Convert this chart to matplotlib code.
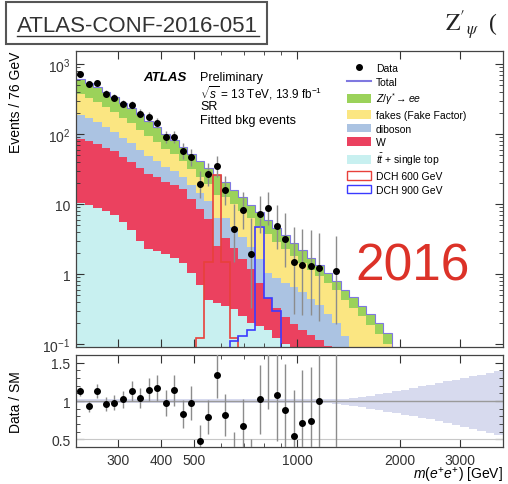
import numpy as np
import matplotlib
matplotlib.use("Agg")
import matplotlib.pyplot as plt
from matplotlib.patches import Patch, Rectangle
from matplotlib.lines import Line2D
from matplotlib.ticker import FixedLocator, NullFormatter

plt.rcParams['font.family'] = ['Liberation Sans', 'DejaVu Sans']
plt.rcParams['mathtext.fontset'] = 'custom'
plt.rcParams['mathtext.rm'] = 'Liberation Sans'
plt.rcParams['mathtext.it'] = 'Liberation Sans:italic'
plt.rcParams['mathtext.bf'] = 'Liberation Sans:bold'

# bin edges [GeV], log spaced
edges = [226.0, 239.4, 253.6, 268.5, 284.4, 301.2, 319.1, 337.9, 357.9, 379.1,
         401.5, 425.3, 450.5, 477.1, 505.4, 535.3, 566.9, 600.5, 636.0, 673.6,
         713.5, 755.7, 800.4, 847.7, 897.9, 951.0, 1007.1, 1066.7, 1129.8, 1196.7,
         1267.5, 1342.5, 1421.9, 1506.0, 1595.1, 1689.5, 1789.4, 1895.3, 2007.4, 2126.2,
         2251.9, 2385.2, 2526.3, 2675.7, 2834.0, 3001.7, 3179.2, 3367.3, 3566.5, 3777.5,
         4000.9]

# backgrounds, events / 76 GeV (first 41 bins, rest empty)
zee = [250, 215, 186, 154, 129, 105, 90, 75, 61, 49, 38.6, 30.8, 24.5, 20, 16.4,
       13.8, 12.4, 7.9, 6.0, 4.5, 3.45, 2.78, 2.2, 1.72, 1.35, 1.0, 0.76, 0.55, 0.41,
       0.29, 0.21, 0.165, 0.13, 0.10, 0.08, 0.06, 0.042, 0.03, 0.02, 0.015, 0.011]
fakes = [180, 157, 137, 116, 99, 81, 68, 55, 45, 35, 27.5, 22, 17.2, 13.4, 10.4,
         8.2, 7.2, 6.2, 5.3, 4.6, 3.9, 3.2, 2.65, 2.0, 1.51, 1.15, 0.88, 0.7, 0.565,
         0.48, 0.39, 0.3, 0.25, 0.2, 0.155, 0.115, 0.085, 0.045, 0.035, 0.026, 0.02]
diboson = [105, 89, 75, 61, 50, 41, 34, 27, 21.7, 17, 13, 10.3, 7.9, 6.8, 5.7,
           5.0, 3.9, 3.1, 2.4, 1.75, 1.27, 0.87, 0.59, 0.55, 0.5, 0.45, 0.4, 0.31, 0.246,
           0.17, 0.12, 0.08, 0.05, 0.03, 0.02, 0.012, 0.008, 0.006, 0.004, 0.003, 0.002]
wjets = [74, 69, 63, 56, 50, 42, 36, 30, 24.5, 22, 19, 17.2, 14.9, 10.8, 7.8,
         5.6, 2.1, 2.9, 2.0, 1.4, 0.98, 0.57, 0.3, 0.21, 0.14, 0.12, 0.1, 0.085, 0.07,
         0.059, 0.048, 0.033, 0.023, 0.016, 0.011, 0.008, 0.006, 0.003, 0.002, 0.002, 0.0015]
ttbar = [10.5, 9.7, 8.9, 7.9, 7.0, 5.5, 4.2, 3.0, 2.3, 2.1, 1.9, 1.7, 1.45, 1.04, 0.7,
         0.43, 0.39, 0.35, 0.32, 0.25, 0.2, 0.18, 0.16, 0.12, 0.1, 0.076, 0.06, 0.051, 0.043,
         0.036, 0.03, 0.018, 0.009, 0.005, 0.003, 0.002, 0.0015, 0.001, 0.001, 0.0005, 0.0]

# signals (first bin index, values)
dch600_start = 14
dch600 = [0.12, 1.5, 26, 1.5, 0.12]
dch900_start = 18
dch900 = [0.11, 0.13, 0.16, 4.7, 0.45, 0.3]

# data (first 31 bins)
data = [713, 513, 541, 377, 330, 271, 260, 195, 175, 145, 90.6, 90.6, 57.2, 46.4, 19.3,
        26.8, 34.6, 16.0, 4.4, 8.3, 1.93, 7.2, 8.7, 4.8, 3.16, 1.47, 1.36, 1.31, 1.21,
        np.nan, 1.09]
data_lo = [60, 50, 52, 42, 38, 33, 33, 27, 25, 22, 17, 17, 13, 11.5, 7,
           8.5, 10, 6.3, 2.9, 3.9, 1.6, 3.3, 3.7, 2.5, 1.9, 1.2, 1.1, 1.05, 1.0, np.nan, 0.9]
data_hi = [65, 55, 57, 46, 42, 37, 37, 31, 29, 26, 21, 21, 16.5, 15, 10,
           11.5, 13.5, 9, 5.5, 6.4, 4.4, 5.8, 6.3, 4.8, 4.2, 3.3, 3.1, 2.9, 2.7, np.nan, 2.4]

# data / SM
ratio = [1.128, 0.933, 1.128, 0.964, 0.977, 1.02, 1.128, 1.04, 1.15, 1.17, 0.973, 1.14,
         0.83, 0.973, 0.484, 0.787, 1.34, 0.817, 0.3, 0.675, 0.2, 1.02, 1.7, 1.084, 0.888,
         0.55, 0.71, 0.741, 1.0, np.nan, 1.7]
ratio_err = [0.06, 0.07, 0.09, 0.09, 0.1, 0.11, 0.13, 0.13, 0.15, 0.17, 0.17, 0.2,
             0.18, 0.22, 0.2, 0.22, 0.3, 0.28, 0.3, 0.35, 0.3, 0.45, 0.8, 0.6, 0.6,
             0.6, 0.7, 0.7, 1.0, np.nan, 1.5]
band_up = [0.02, 0.02, 0.02, 0.02, 0.02, 0.02, 0.02, 0.02, 0.02, 0.02, 0.02, 0.02, 0.02,
           0.02, 0.02, 0.02, 0.02, 0.02, 0.02, 0.02, 0.02, 0.02, 0.02, 0.02, 0.02, 0.02,
           0.02, 0.02, 0.02, 0.02, 0.025, 0.03, 0.04, 0.05, 0.07, 0.09, 0.11, 0.13, 0.15,
           0.17, 0.19, 0.21, 0.23, 0.255, 0.28, 0.3, 0.32, 0.345, 0.37, 0.39]
band_dn = [0.02, 0.02, 0.02, 0.02, 0.02, 0.02, 0.02, 0.02, 0.02, 0.02, 0.02, 0.02, 0.02,
           0.02, 0.02, 0.02, 0.02, 0.02, 0.02, 0.02, 0.02, 0.02, 0.02, 0.02, 0.02, 0.02,
           0.02, 0.02, 0.02, 0.03, 0.04, 0.05, 0.065, 0.08, 0.1, 0.12, 0.14, 0.16, 0.18,
           0.2, 0.22, 0.24, 0.265, 0.29, 0.315, 0.34, 0.365, 0.39, 0.415, 0.44]

c_zee = '#9bd25a'
c_fake = '#fbe682'
c_dib = '#abc3e2'
c_w = '#eb415f'
c_tt = '#c8f0f0'
c_tot = '#7f78e0'
c_s600 = '#e8403a'
c_s900 = '#3a3aff'

edges = np.array(edges)
nb = len(edges) - 1
centers = np.sqrt(edges[:-1] * edges[1:])


def full(vals, start=0):
    out = np.zeros(nb)
    out[start:start + len(vals)] = vals
    return out


fig = plt.figure(figsize=(5.08, 4.85), dpi=100)
ax = fig.add_axes([76 / 508, 1 - 348 / 485, 427 / 508, 296 / 485])
rax = fig.add_axes([76 / 508, 1 - 448 / 485, 427 / 508, 92 / 485])

# stacked backgrounds
base = np.full(nb, 1e-4)
for vals, col in [(ttbar, c_tt), (wjets, c_w), (diboson, c_dib), (fakes, c_fake), (zee, c_zee)]:
    top = base + full(vals)
    ax.stairs(top, edges, baseline=base, fill=True, color=col, lw=0)
    base = top
ax.stairs(base, edges, baseline=None, color=c_tot, lw=0.8)

ax.stairs(full(dch600, dch600_start), edges, baseline=1e-4, color=c_s600, lw=1.2)
ax.stairs(full(dch900, dch900_start), edges, baseline=1e-4, color=c_s900, lw=1.2)

ndat = len(data)
ax.errorbar(centers[:ndat], data, yerr=[data_lo, data_hi], fmt='o', color='black',
            ms=4, ecolor='#8c8c8c', elinewidth=1.0, capsize=0, zorder=5)

ax.set_xscale('log')
ax.set_yscale('log')
ax.set_xlim(226, 4000)
ax.set_ylim(0.0906, 1534)
ax.set_yticks([0.1, 1, 10, 100, 1000])
ax.set_yticklabels([r'$10^{-1}$', '1', '10', r'$10^{2}$', r'$10^{3}$'])
ax.set_ylabel('Events / 76 GeV', fontsize=10, loc='top')
ax.yaxis.set_label_coords(-0.125, 1.0)

# ratio panel
rax.stairs(1 + np.array(band_up), edges, baseline=1 - np.array(band_dn), fill=True,
           color='#d7daee', lw=0)
rax.axhline(1.0, color='#9a9a9a', lw=1.0)
rax.axhline(0.5, color='#c8c8c8', lw=0.8)
rax.errorbar(centers[:ndat], ratio, yerr=ratio_err, fmt='o', color='black', ms=4,
             ecolor='#8c8c8c', elinewidth=1.0, capsize=0, zorder=5)
rax.set_xscale('log')
rax.set_xlim(226, 4000)
rax.set_ylim(0.4, 1.6)
rax.set_yticks([0.5, 1, 1.5])
rax.set_yticklabels(['0.5', '1', '1.5'])
rax.set_yticks(np.arange(0.4, 1.61, 0.1), minor=True)
rax.set_ylabel('Data / SM', fontsize=10)
rax.yaxis.set_label_coords(-0.125, 0.5)
rax.set_xlabel(r'$m(e^{+}e^{+})$ [GeV]', fontsize=10, loc='right')
rax.xaxis.set_label_coords(1.0, -0.2)

xmaj = [300, 400, 500, 1000, 2000, 3000]
xmin = [600, 700, 800, 900, 4000]
for a in (ax, rax):
    a.xaxis.set_major_locator(FixedLocator(xmaj))
    a.xaxis.set_minor_locator(FixedLocator(xmin))
    a.xaxis.set_minor_formatter(NullFormatter())
    a.tick_params(which='both', direction='in', top=True, right=True, labelsize=10,
                  colors='#333333', pad=4)
    a.tick_params(which='major', length=6)
    a.tick_params(which='minor', length=3)
    for s in a.spines.values():
        s.set_color('#444444')
        s.set_linewidth(0.9)
ax.set_xticklabels([])
rax.set_xticklabels(['300', '400', '500', '1000', '2000', '3000'])

# legend
handles = [
    Line2D([], [], marker='o', color='black', ls='none', ms=4),
    Line2D([], [], color=c_tot, lw=1.5),
    Patch(fc=c_zee), Patch(fc=c_fake), Patch(fc=c_dib), Patch(fc=c_w), Patch(fc=c_tt),
    Patch(fc='white', ec=c_s600, lw=1), Patch(fc='white', ec=c_s900, lw=1),
]
labels = ['Data', 'Total', r'$Z/\gamma^{*}\rightarrow ee$', 'fakes (Fake Factor)',
          'diboson', 'W', r'$t\bar{t}$ + single top', 'DCH 600 GeV', 'DCH 900 GeV']
ax.legend(handles, labels, loc='upper left', bbox_to_anchor=(0.634, 0.96),
          frameon=False, fontsize=7.5, handlelength=2.3, handleheight=0.9,
          labelspacing=0.36, handletextpad=0.5, borderaxespad=0, borderpad=0)

# labels
def ftext(x, y, s, **kw):
    fig.text(x / 508, 1 - y / 485, s, va='center', **kw)


ftext(143, 78, 'ATLAS', fontsize=9.5, fontweight='bold', fontstyle='italic')
ftext(200, 78, 'Preliminary', fontsize=9)
ftext(200, 93, r'$\sqrt{s}$ = 13 TeV, 13.9 fb$^{-1}$', fontsize=8.5)
ftext(200, 107, 'SR', fontsize=9)
ftext(200, 121, 'Fitted bkg events', fontsize=9)
ftext(413, 267, '2016', fontsize=37, color='#dc3228', ha='center')

# header
fig.add_artist(Rectangle((6 / 508, 1 - 45 / 485), 261 / 508, 42 / 485,
                         transform=fig.transFigure, fill=False, ec='#555555', lw=1.5))
ftext(17, 27, 'ATLAS-CONF-2016-051', fontsize=16, color='#333333')
fig.add_artist(Line2D([17 / 508, 259 / 508], [1 - 37 / 485] * 2,
                      transform=fig.transFigure, color='#333333', lw=1))
ftext(445, 25, r"$\mathrm{Z}'_{\psi}$  (", fontsize=17, math_fontfamily='stix',
      family='Liberation Serif', color='#222222')

fig.savefig('out.png', dpi=100, facecolor='white')
